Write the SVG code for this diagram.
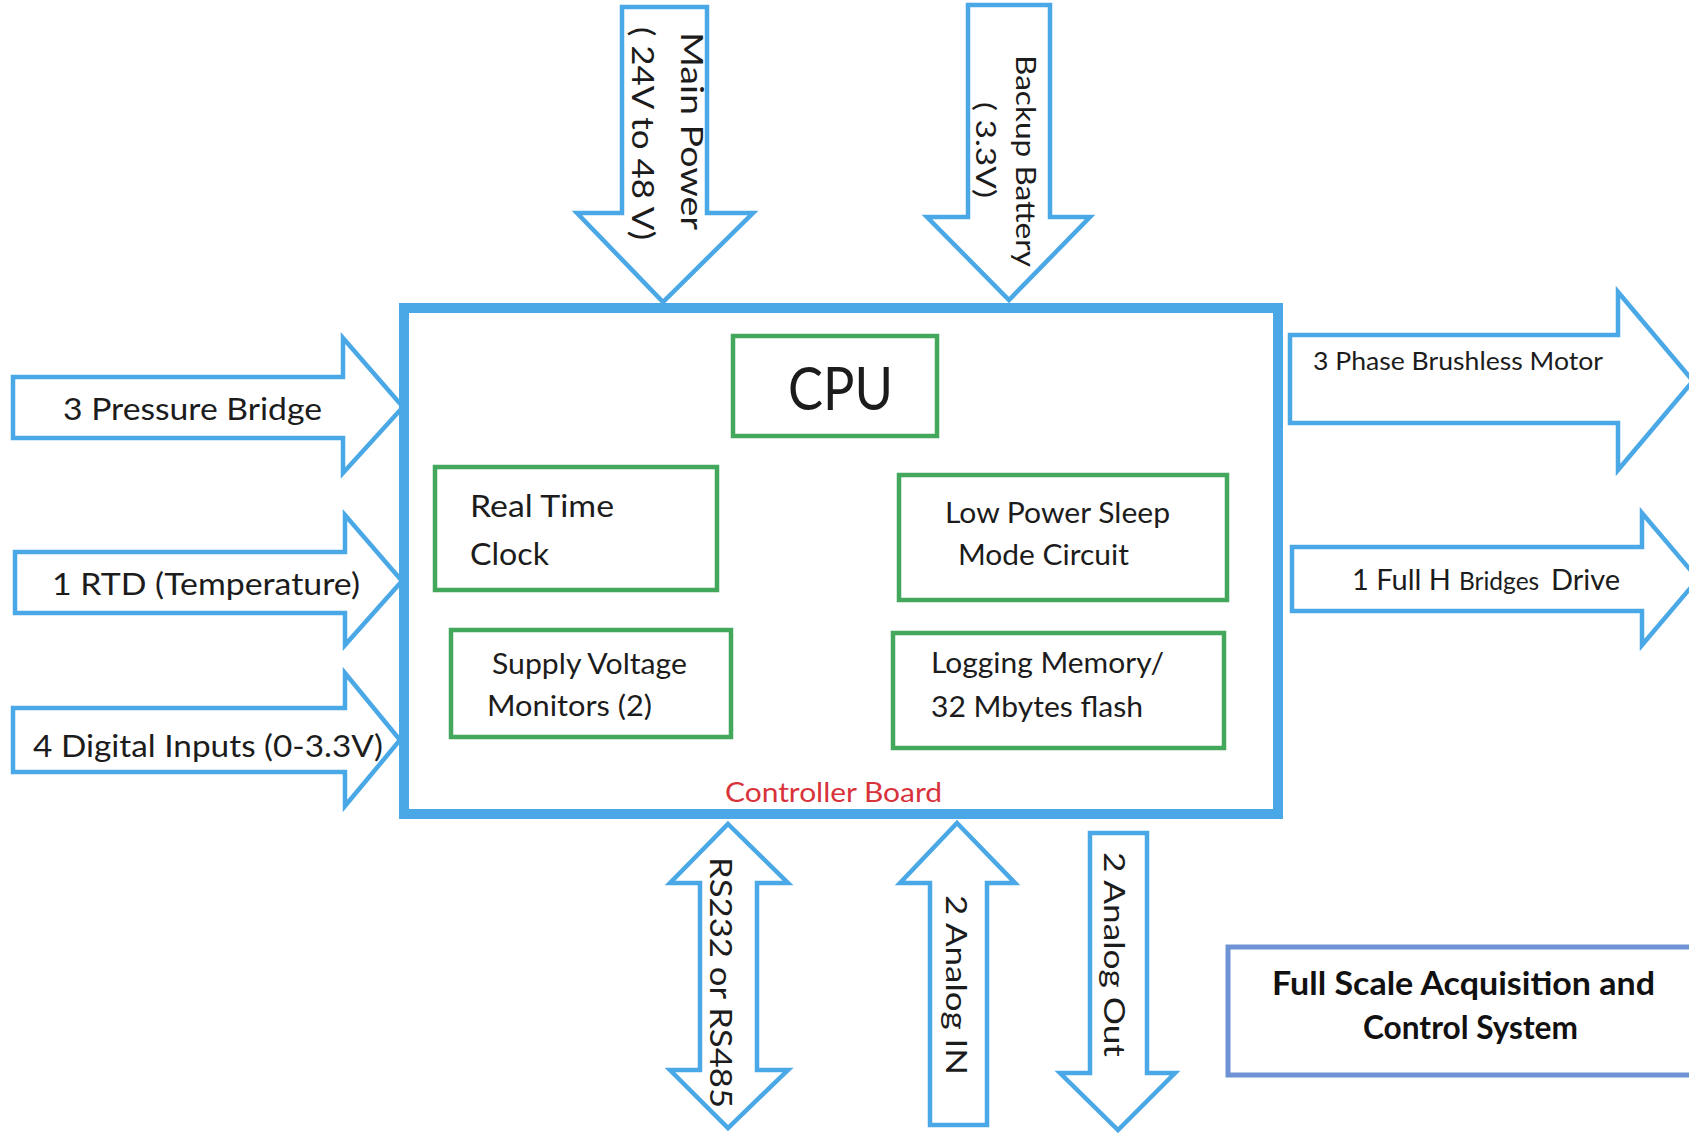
<svg xmlns="http://www.w3.org/2000/svg" width="1689" height="1133" viewBox="0 0 1689 1133">
<style>
.arrow{fill:#ffffff;stroke:#4aa8e6;stroke-width:4.5;stroke-linejoin:miter}
.board{fill:#ffffff;stroke:#4aa8e6;stroke-width:10}
.box{fill:#ffffff;stroke:#43a75c;stroke-width:4.5}
.lbl{font-family:Lato,"Open Sans","Liberation Sans",sans-serif;fill:#1c1c1c}
.title{font-family:Lato,"Open Sans","Liberation Sans",sans-serif;font-weight:bold;fill:#111111}
.red{font-family:Lato,"Open Sans","Liberation Sans",sans-serif;fill:#d8333b}
</style>
<rect width="1689" height="1133" fill="#ffffff"/>
<g id="connectors">
  <g id="main-power">
    <path class="arrow" d="M622,7 L707,7 L707,213 L753,213 L663,302 L577,213 L622,213 Z"/>
    <text class="lbl" font-size="30" transform="translate(681,32) rotate(90)" textLength="198" lengthAdjust="spacingAndGlyphs">Main Power</text>
    <text class="lbl" font-size="30" transform="translate(632,27) rotate(90)" textLength="213" lengthAdjust="spacingAndGlyphs">( 24V to 48 V)</text>
  </g>
  <g id="backup-battery">
    <path class="arrow" d="M968,5 L1050,5 L1050,217 L1090,217 L1009,300 L927,217 L968,217 Z"/>
    <text class="lbl" font-size="27" transform="translate(1016,55) rotate(90)" textLength="212" lengthAdjust="spacingAndGlyphs">Backup Battery</text>
    <text class="lbl" font-size="27" transform="translate(976,102) rotate(90)" textLength="96" lengthAdjust="spacingAndGlyphs">( 3.3V)</text>
  </g>
  <g id="pressure-bridge">
    <path class="arrow" d="M13,377 L343,377 L343,338 L403,407 L343,473 L343,438 L13,438 Z"/>
    <text class="lbl" font-size="30" x="63" y="420" textLength="259" lengthAdjust="spacingAndGlyphs">3 Pressure Bridge</text>
  </g>
  <g id="rtd">
    <path class="arrow" d="M15,552 L345,552 L345,515 L402,581 L345,645 L345,613 L15,613 Z"/>
    <text class="lbl" font-size="30" x="52" y="595" textLength="308" lengthAdjust="spacingAndGlyphs">1 RTD (Temperature)</text>
  </g>
  <g id="digital-inputs">
    <path class="arrow" d="M13,708 L345,708 L345,673 L400,740 L345,806 L345,772 L13,772 Z"/>
    <text class="lbl" font-size="30" x="33" y="757" textLength="350" lengthAdjust="spacingAndGlyphs">4 Digital Inputs (0-3.3V)</text>
  </g>
  <g id="bldc-motor">
    <path class="arrow" d="M1290,335 L1618,335 L1618,292 L1693,381 L1618,470 L1618,423 L1290,423 Z"/>
    <text class="lbl" font-size="25" x="1313" y="370" textLength="290" lengthAdjust="spacingAndGlyphs">3 Phase Brushless Motor</text>
  </g>
  <g id="h-bridge">
    <path class="arrow" d="M1292,547 L1642,547 L1642,513 L1698,579 L1642,645 L1642,611 L1292,611 Z"/>
    <text class="lbl" font-size="29" y="590"><tspan x="1352">1 Full H </tspan><tspan x="1459" font-size="24.5">Bridges </tspan><tspan x="1551">Drive</tspan></text>
  </g>
  <g id="rs232">
    <path class="arrow" d="M728,824 L788,883 L757,883 L757,1070 L788,1070 L728,1128 L670,1070 L700,1070 L700,883 L670,883 Z"/>
    <text class="lbl" font-size="30" transform="translate(710,857) rotate(90)" textLength="251" lengthAdjust="spacingAndGlyphs">RS232 or RS485</text>
  </g>
  <g id="analog-in">
    <path class="arrow" d="M957,823 L1015,883 L987,883 L987,1125 L930,1125 L930,883 L900,883 Z"/>
    <text class="lbl" font-size="28" transform="translate(946,895) rotate(90)" textLength="180" lengthAdjust="spacingAndGlyphs">2 Analog IN</text>
  </g>
  <g id="analog-out">
    <path class="arrow" d="M1090,833 L1147,833 L1147,1073 L1175,1073 L1118,1130 L1060,1073 L1090,1073 Z"/>
    <text class="lbl" font-size="29" transform="translate(1104,852) rotate(90)" textLength="205" lengthAdjust="spacingAndGlyphs">2 Analog Out</text>
  </g>
</g>
<g id="controller-board">
  <rect class="board" x="404" y="308" width="874" height="506"/>
  <text class="red" font-size="27" x="725" y="802" textLength="217" lengthAdjust="spacingAndGlyphs">Controller Board</text>
</g>
<g id="cpu">
  <rect class="box" x="733" y="336" width="204" height="100"/>
  <text class="lbl" font-size="60" x="788" y="410" textLength="105" lengthAdjust="spacingAndGlyphs">CPU</text>
</g>
<g id="rtc">
  <rect class="box" x="435" y="467" width="282" height="123"/>
  <text class="lbl" font-size="31" x="470" y="517" textLength="144" lengthAdjust="spacingAndGlyphs">Real Time</text>
  <text class="lbl" font-size="31" x="470" y="565" textLength="79" lengthAdjust="spacingAndGlyphs">Clock</text>
</g>
<g id="supply-monitors">
  <rect class="box" x="451" y="630" width="280" height="107"/>
  <text class="lbl" font-size="28" x="492" y="674" textLength="195" lengthAdjust="spacingAndGlyphs">Supply Voltage</text>
  <text class="lbl" font-size="28" x="487" y="716" textLength="165" lengthAdjust="spacingAndGlyphs">Monitors (2)</text>
</g>
<g id="low-power">
  <rect class="box" x="899" y="475" width="328" height="125"/>
  <text class="lbl" font-size="28" x="945" y="523" textLength="225" lengthAdjust="spacingAndGlyphs">Low Power Sleep</text>
  <text class="lbl" font-size="28" x="958" y="565" textLength="171" lengthAdjust="spacingAndGlyphs">Mode Circuit</text>
</g>
<g id="logging-memory">
  <rect class="box" x="893" y="633" width="331" height="115"/>
  <text class="lbl" font-size="28" x="931" y="673" textLength="233" lengthAdjust="spacingAndGlyphs">Logging Memory/</text>
  <text class="lbl" font-size="28" x="931" y="717" textLength="212" lengthAdjust="spacingAndGlyphs">32 Mbytes flash</text>
</g>
<g id="title">
  <rect x="1228" y="947" width="480" height="128" fill="#ffffff" stroke="#6e93d4" stroke-width="5"/>
  <text class="title" font-size="33" x="1272" y="995" textLength="383" lengthAdjust="spacingAndGlyphs">Full Scale Acquisition and</text>
  <text class="title" font-size="33" x="1363" y="1039" textLength="215" lengthAdjust="spacingAndGlyphs">Control System</text>
</g>
</svg>
